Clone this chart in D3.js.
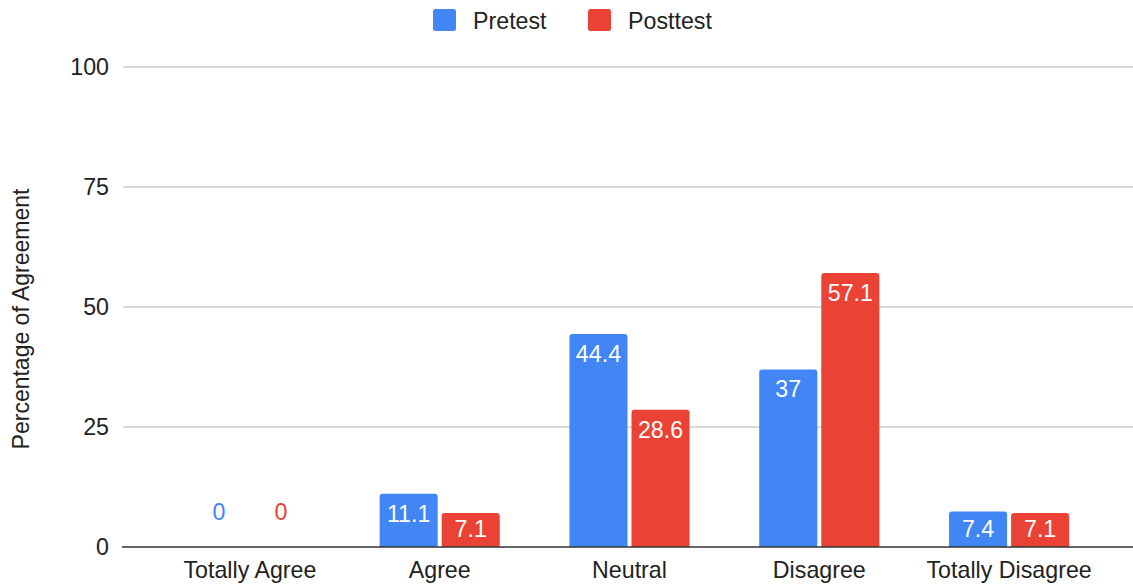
<!DOCTYPE html>
<html>
<head>
<meta charset="utf-8">
<script src="https://cdn.jsdelivr.net/npm/d3@7"></script>
<style>
  html, body { margin: 0; padding: 0; background: #fff; }
  svg { display: block; }
  text { font-family: "Liberation Sans", Arial, Helvetica, sans-serif; }
</style>
</head>
<body>
<svg id="chart" width="1133" height="585"></svg>
<script>
// Survey responses, percentage of agreement before and after
const categories = ["Totally Agree", "Agree", "Neutral", "Disagree", "Totally Disagree"];
const seriesNames = ["Pretest", "Posttest"];
const pretest = [0, 11.1, 44.4, 37, 7.4];
const posttest = [0, 7.1, 28.6, 57.1, 7.1];
const yTicks = [0, 25, 50, 75, 100];
const colors = ["#4285F4", "#EA4335"];
const yTitle = "Percentage of Agreement";

const W = 1133, H = 585;
const plot = { left: 123, right: 1133, top: 67, bottom: 547 };
const SX = 1.01;         // glyphs are drawn slightly wide
const FONT = 23;
const LABEL_FONT = 23;

const svg = d3.select("#chart");

const values = [pretest, posttest];
const rows = categories.map((c, i) => ({
  cat: c,
  vals: seriesNames.map((s, k) => ({ series: s, k, value: values[k][i] }))
}));

const x = d3.scaleBand()
  .domain(categories)
  .range([155, 1104])
  .paddingInner(0.367)
  .paddingOuter(0.1835);

const xs = d3.scaleBand()
  .domain(seriesNames)
  .range([0, x.bandwidth()])
  .paddingInner(0.0645);

const y = d3.scaleLinear().domain([0, 100]).range([plot.bottom, plot.top]);

// places a text element at (px, py) with the wide glyph stretch
function place(sel, px, py, extra) {
  return sel.attr("transform", `translate(${px},${py}) scale(${SX},1)` + (extra || ""));
}

// gridlines
svg.append("g").selectAll("line")
  .data(yTicks.filter(t => t !== 0))
  .join("line")
  .attr("x1", plot.left).attr("x2", plot.right)
  .attr("y1", d => y(d)).attr("y2", d => y(d))
  .attr("stroke", "#cccccc").attr("stroke-width", 1.3);

// y tick labels
svg.append("g").selectAll("text")
  .data(yTicks)
  .join("text")
  .each(function (d) { place(d3.select(this), 109, y(d) + 8); })
  .attr("text-anchor", "end")
  .attr("font-size", FONT)
  .attr("fill", "#222")
  .text(d => d);

// y axis title
place(svg.append("text"), 29, 319, " rotate(-90)")
  .attr("text-anchor", "middle")
  .attr("font-size", FONT)
  .attr("fill", "#222")
  .text(yTitle);

// bar with rounded top corners
function barPath(x0, w, yTop, yBase, r) {
  const h = yBase - yTop;
  if (h <= 0) return "";
  r = Math.min(r, h, w / 2);
  return `M${x0},${yBase}V${yTop + r}Q${x0},${yTop} ${x0 + r},${yTop}` +
         `H${x0 + w - r}Q${x0 + w},${yTop} ${x0 + w},${yTop + r}V${yBase}Z`;
}

const groups = svg.append("g").selectAll("g")
  .data(rows)
  .join("g")
  .attr("transform", d => `translate(${x(d.cat)},0)`);

groups.selectAll("path")
  .data(d => d.vals)
  .join("path")
  .attr("d", d => barPath(xs(d.series), xs.bandwidth(), y(d.value), y(0), 3))
  .attr("fill", d => colors[d.k]);

// value labels: inside the bar, or above the baseline when the value is zero
groups.selectAll("text")
  .data(d => d.vals)
  .join("text")
  .each(function (d) {
    const cx = xs(d.series) + xs.bandwidth() / 2;
    const top = y(d.value);
    const h = y(0) - top;
    const base = h > 0 ? top + Math.min(28, h / 2 + 7.5) : y(0) - 27;
    place(d3.select(this), cx, base);
  })
  .attr("text-anchor", "middle")
  .attr("font-size", LABEL_FONT)
  .attr("fill", d => d.value > 0 ? "#ffffff" : colors[d.k])
  .text(d => d.value);

// baseline
svg.append("line")
  .attr("x1", plot.left - 1).attr("x2", plot.right)
  .attr("y1", y(0)).attr("y2", y(0))
  .attr("stroke", "#333").attr("stroke-width", 1.5);

// category labels
svg.append("g").selectAll("text")
  .data(categories)
  .join("text")
  .each(function (d) { place(d3.select(this), x(d) + x.bandwidth() / 2, 577.5); })
  .attr("text-anchor", "middle")
  .attr("font-size", FONT)
  .attr("fill", "#222")
  .text(d => d);

// legend
const legendX = [433, 588];
const legend = svg.append("g").selectAll("g")
  .data(seriesNames)
  .join("g")
  .attr("transform", (d, i) => `translate(${legendX[i]},9)`);
legend.append("rect")
  .attr("width", 23).attr("height", 22).attr("rx", 2.5)
  .attr("fill", (d, i) => colors[i]);
legend.append("text")
  .each(function () { place(d3.select(this), 40, 20); })
  .attr("font-size", FONT)
  .attr("fill", "#222")
  .text(d => d);
</script>
</body>
</html>
